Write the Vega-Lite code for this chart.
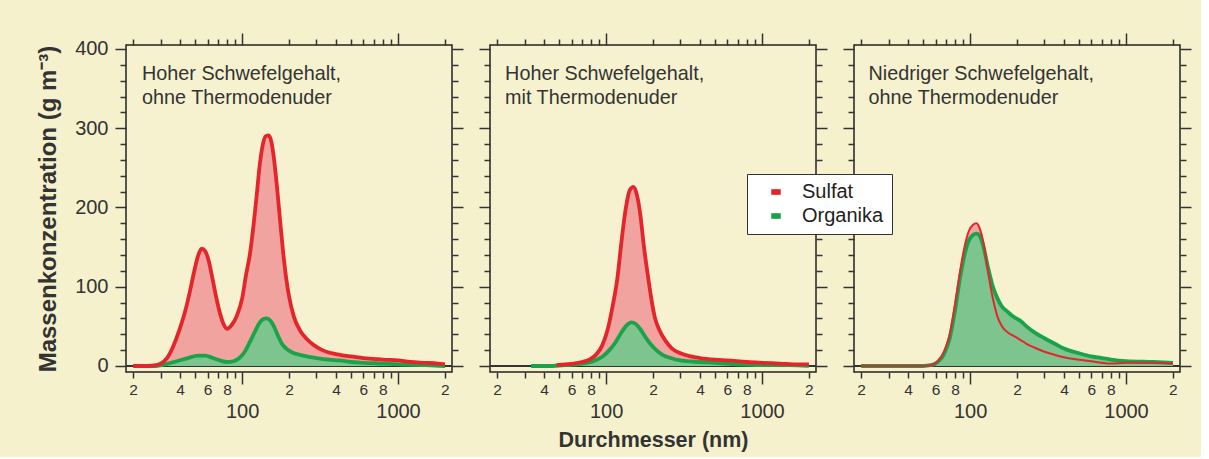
{
"$schema":"https://vega.github.io/schema/vega-lite/v6.json",
"background":"#f5f1cc",
"padding":{"left":35,"top":31,"right":8,"bottom":5},
"spacing":38,
"bounds":"flush",
"config":{"view":{"stroke":"#222","strokeWidth":1.5,"fill":"#f6f2cf"},"axis":{"tickColor":"#333","tickWidth":1.5,"labelColor":"#333","labelFont":"Liberation Sans","titleFont":"Liberation Sans","titleColor":"#333","titleFontSize":21.5,"titleFontWeight":"bold","grid":false,"domain":false}},
"data":{"values":[
{"p":1,"s":"Sulfat","d":20,"v":0},{"p":1,"s":"Sulfat","d":25,"v":0},{"p":1,"s":"Sulfat","d":28,"v":1},{"p":1,"s":"Sulfat","d":30,"v":3},{"p":1,"s":"Sulfat","d":33,"v":10},{"p":1,"s":"Sulfat","d":36,"v":24},{"p":1,"s":"Sulfat","d":40,"v":48},{"p":1,"s":"Sulfat","d":43,"v":68},{"p":1,"s":"Sulfat","d":46,"v":92},{"p":1,"s":"Sulfat","d":49,"v":117},{"p":1,"s":"Sulfat","d":52,"v":138},{"p":1,"s":"Sulfat","d":55,"v":148},{"p":1,"s":"Sulfat","d":58,"v":145},{"p":1,"s":"Sulfat","d":61,"v":133},{"p":1,"s":"Sulfat","d":64,"v":114},{"p":1,"s":"Sulfat","d":68,"v":88},{"p":1,"s":"Sulfat","d":72,"v":67},{"p":1,"s":"Sulfat","d":76,"v":53},{"p":1,"s":"Sulfat","d":80,"v":47},{"p":1,"s":"Sulfat","d":86,"v":52},{"p":1,"s":"Sulfat","d":92,"v":62},{"p":1,"s":"Sulfat","d":100,"v":85},{"p":1,"s":"Sulfat","d":106,"v":115},{"p":1,"s":"Sulfat","d":112,"v":140},{"p":1,"s":"Sulfat","d":118,"v":175},{"p":1,"s":"Sulfat","d":124,"v":215},{"p":1,"s":"Sulfat","d":130,"v":255},{"p":1,"s":"Sulfat","d":136,"v":280},{"p":1,"s":"Sulfat","d":142,"v":290},{"p":1,"s":"Sulfat","d":148,"v":291},{"p":1,"s":"Sulfat","d":154,"v":283},{"p":1,"s":"Sulfat","d":160,"v":262},{"p":1,"s":"Sulfat","d":167,"v":228},{"p":1,"s":"Sulfat","d":175,"v":185},{"p":1,"s":"Sulfat","d":183,"v":145},{"p":1,"s":"Sulfat","d":192,"v":110},{"p":1,"s":"Sulfat","d":200,"v":88},{"p":1,"s":"Sulfat","d":215,"v":62},{"p":1,"s":"Sulfat","d":235,"v":45},{"p":1,"s":"Sulfat","d":260,"v":34},{"p":1,"s":"Sulfat","d":290,"v":26},{"p":1,"s":"Sulfat","d":320,"v":21},{"p":1,"s":"Sulfat","d":360,"v":17},{"p":1,"s":"Sulfat","d":400,"v":15},{"p":1,"s":"Sulfat","d":450,"v":13},{"p":1,"s":"Sulfat","d":500,"v":12},{"p":1,"s":"Sulfat","d":600,"v":10},{"p":1,"s":"Sulfat","d":700,"v":9},{"p":1,"s":"Sulfat","d":800,"v":8},{"p":1,"s":"Sulfat","d":1000,"v":7},{"p":1,"s":"Sulfat","d":1200,"v":5},{"p":1,"s":"Sulfat","d":1500,"v":4},{"p":1,"s":"Sulfat","d":1800,"v":3},{"p":1,"s":"Sulfat","d":2000,"v":2},
{"p":1,"s":"Organika","d":22,"v":0},{"p":1,"s":"Organika","d":28,"v":0},{"p":1,"s":"Organika","d":32,"v":2},{"p":1,"s":"Organika","d":38,"v":6},{"p":1,"s":"Organika","d":45,"v":10},{"p":1,"s":"Organika","d":52,"v":13},{"p":1,"s":"Organika","d":58,"v":13},{"p":1,"s":"Organika","d":65,"v":10},{"p":1,"s":"Organika","d":72,"v":7},{"p":1,"s":"Organika","d":80,"v":5},{"p":1,"s":"Organika","d":88,"v":6},{"p":1,"s":"Organika","d":96,"v":10},{"p":1,"s":"Organika","d":104,"v":18},{"p":1,"s":"Organika","d":112,"v":30},{"p":1,"s":"Organika","d":120,"v":42},{"p":1,"s":"Organika","d":128,"v":53},{"p":1,"s":"Organika","d":136,"v":59},{"p":1,"s":"Organika","d":144,"v":60},{"p":1,"s":"Organika","d":152,"v":57},{"p":1,"s":"Organika","d":160,"v":50},{"p":1,"s":"Organika","d":170,"v":38},{"p":1,"s":"Organika","d":180,"v":28},{"p":1,"s":"Organika","d":192,"v":22},{"p":1,"s":"Organika","d":210,"v":17},{"p":1,"s":"Organika","d":235,"v":14},{"p":1,"s":"Organika","d":260,"v":12},{"p":1,"s":"Organika","d":300,"v":10},{"p":1,"s":"Organika","d":360,"v":8},{"p":1,"s":"Organika","d":420,"v":7},{"p":1,"s":"Organika","d":500,"v":5},{"p":1,"s":"Organika","d":600,"v":4},{"p":1,"s":"Organika","d":800,"v":3},{"p":1,"s":"Organika","d":1000,"v":2},{"p":1,"s":"Organika","d":1500,"v":1},{"p":1,"s":"Organika","d":2000,"v":0},
{"p":2,"s":"Sulfat","d":48,"v":1},{"p":2,"s":"Sulfat","d":55,"v":2},{"p":2,"s":"Sulfat","d":62,"v":3},{"p":2,"s":"Sulfat","d":70,"v":5},{"p":2,"s":"Sulfat","d":78,"v":8},{"p":2,"s":"Sulfat","d":86,"v":14},{"p":2,"s":"Sulfat","d":94,"v":25},{"p":2,"s":"Sulfat","d":102,"v":45},{"p":2,"s":"Sulfat","d":110,"v":75},{"p":2,"s":"Sulfat","d":118,"v":110},{"p":2,"s":"Sulfat","d":126,"v":160},{"p":2,"s":"Sulfat","d":134,"v":200},{"p":2,"s":"Sulfat","d":142,"v":222},{"p":2,"s":"Sulfat","d":150,"v":226},{"p":2,"s":"Sulfat","d":158,"v":215},{"p":2,"s":"Sulfat","d":166,"v":190},{"p":2,"s":"Sulfat","d":175,"v":150},{"p":2,"s":"Sulfat","d":185,"v":115},{"p":2,"s":"Sulfat","d":195,"v":85},{"p":2,"s":"Sulfat","d":205,"v":62},{"p":2,"s":"Sulfat","d":220,"v":45},{"p":2,"s":"Sulfat","d":240,"v":32},{"p":2,"s":"Sulfat","d":265,"v":22},{"p":2,"s":"Sulfat","d":300,"v":16},{"p":2,"s":"Sulfat","d":350,"v":12},{"p":2,"s":"Sulfat","d":400,"v":10},{"p":2,"s":"Sulfat","d":500,"v":8},{"p":2,"s":"Sulfat","d":600,"v":7},{"p":2,"s":"Sulfat","d":800,"v":5},{"p":2,"s":"Sulfat","d":1000,"v":4},{"p":2,"s":"Sulfat","d":1300,"v":3},{"p":2,"s":"Sulfat","d":1600,"v":2},{"p":2,"s":"Sulfat","d":2000,"v":2},
{"p":2,"s":"Organika","d":33,"v":0},{"p":2,"s":"Organika","d":45,"v":0},{"p":2,"s":"Organika","d":55,"v":1},{"p":2,"s":"Organika","d":65,"v":2},{"p":2,"s":"Organika","d":75,"v":4},{"p":2,"s":"Organika","d":85,"v":7},{"p":2,"s":"Organika","d":95,"v":12},{"p":2,"s":"Organika","d":105,"v":20},{"p":2,"s":"Organika","d":115,"v":30},{"p":2,"s":"Organika","d":125,"v":42},{"p":2,"s":"Organika","d":135,"v":51},{"p":2,"s":"Organika","d":145,"v":55},{"p":2,"s":"Organika","d":155,"v":53},{"p":2,"s":"Organika","d":165,"v":47},{"p":2,"s":"Organika","d":178,"v":37},{"p":2,"s":"Organika","d":192,"v":28},{"p":2,"s":"Organika","d":210,"v":20},{"p":2,"s":"Organika","d":230,"v":14},{"p":2,"s":"Organika","d":260,"v":10},{"p":2,"s":"Organika","d":300,"v":7},{"p":2,"s":"Organika","d":400,"v":5},{"p":2,"s":"Organika","d":500,"v":4},{"p":2,"s":"Organika","d":700,"v":2},{"p":2,"s":"Organika","d":1000,"v":1},{"p":2,"s":"Organika","d":1500,"v":1},{"p":2,"s":"Organika","d":2000,"v":0},
{"p":3,"s":"Sulfat","d":20,"v":0},{"p":3,"s":"Sulfat","d":30,"v":0},{"p":3,"s":"Sulfat","d":40,"v":0},{"p":3,"s":"Sulfat","d":50,"v":0},{"p":3,"s":"Sulfat","d":56,"v":1},{"p":3,"s":"Sulfat","d":62,"v":6},{"p":3,"s":"Sulfat","d":68,"v":18},{"p":3,"s":"Sulfat","d":74,"v":40},{"p":3,"s":"Sulfat","d":80,"v":78},{"p":3,"s":"Sulfat","d":86,"v":118},{"p":3,"s":"Sulfat","d":92,"v":150},{"p":3,"s":"Sulfat","d":98,"v":170},{"p":3,"s":"Sulfat","d":104,"v":178},{"p":3,"s":"Sulfat","d":110,"v":180},{"p":3,"s":"Sulfat","d":116,"v":172},{"p":3,"s":"Sulfat","d":122,"v":155},{"p":3,"s":"Sulfat","d":130,"v":120},{"p":3,"s":"Sulfat","d":140,"v":85},{"p":3,"s":"Sulfat","d":150,"v":62},{"p":3,"s":"Sulfat","d":160,"v":50},{"p":3,"s":"Sulfat","d":175,"v":42},{"p":3,"s":"Sulfat","d":190,"v":38},{"p":3,"s":"Sulfat","d":210,"v":33},{"p":3,"s":"Sulfat","d":230,"v":28},{"p":3,"s":"Sulfat","d":260,"v":23},{"p":3,"s":"Sulfat","d":300,"v":18},{"p":3,"s":"Sulfat","d":350,"v":14},{"p":3,"s":"Sulfat","d":400,"v":11},{"p":3,"s":"Sulfat","d":500,"v":8},{"p":3,"s":"Sulfat","d":600,"v":6},{"p":3,"s":"Sulfat","d":700,"v":4},{"p":3,"s":"Sulfat","d":800,"v":3},{"p":3,"s":"Sulfat","d":1000,"v":4},{"p":3,"s":"Sulfat","d":1500,"v":4},{"p":3,"s":"Sulfat","d":2000,"v":3},
{"p":3,"s":"Organika","d":20,"v":0},{"p":3,"s":"Organika","d":30,"v":0},{"p":3,"s":"Organika","d":40,"v":0},{"p":3,"s":"Organika","d":50,"v":0},{"p":3,"s":"Organika","d":56,"v":1},{"p":3,"s":"Organika","d":62,"v":5},{"p":3,"s":"Organika","d":68,"v":15},{"p":3,"s":"Organika","d":74,"v":35},{"p":3,"s":"Organika","d":80,"v":70},{"p":3,"s":"Organika","d":86,"v":110},{"p":3,"s":"Organika","d":92,"v":140},{"p":3,"s":"Organika","d":98,"v":158},{"p":3,"s":"Organika","d":104,"v":165},{"p":3,"s":"Organika","d":110,"v":167},{"p":3,"s":"Organika","d":116,"v":163},{"p":3,"s":"Organika","d":122,"v":150},{"p":3,"s":"Organika","d":130,"v":125},{"p":3,"s":"Organika","d":140,"v":100},{"p":3,"s":"Organika","d":150,"v":85},{"p":3,"s":"Organika","d":160,"v":75},{"p":3,"s":"Organika","d":175,"v":68},{"p":3,"s":"Organika","d":190,"v":62},{"p":3,"s":"Organika","d":210,"v":57},{"p":3,"s":"Organika","d":230,"v":50},{"p":3,"s":"Organika","d":260,"v":42},{"p":3,"s":"Organika","d":300,"v":35},{"p":3,"s":"Organika","d":350,"v":28},{"p":3,"s":"Organika","d":400,"v":22},{"p":3,"s":"Organika","d":500,"v":16},{"p":3,"s":"Organika","d":600,"v":12},{"p":3,"s":"Organika","d":700,"v":10},{"p":3,"s":"Organika","d":800,"v":8},{"p":3,"s":"Organika","d":1000,"v":6},{"p":3,"s":"Organika","d":1500,"v":5},{"p":3,"s":"Organika","d":2000,"v":4}
]},
"hconcat":[
{"width":326,"height":327,"resolve":{"axis":{"x":"independent","y":"independent"}},"layer":[
 {"mark":{"type":"rule","color":"#333","strokeWidth":1},"encoding":{"y":{"datum":0,"type":"quantitative","axis":null}}},
 {"transform":[{"filter":"datum.p==1 && datum.s=='Sulfat'"}],"mark":{"type":"area","color":"#f1a3a0","interpolate":"monotone"},"encoding":{
  "x":{"field":"d","type":"quantitative","scale":{"type":"log","domain":[18,2220],"nice":false},"axis":{"orient":"bottom","values":[20,30,40,50,60,70,80,90,100,200,300,400,500,600,700,800,900,1000,2000],"labelExpr":"indexof([20,200,2000],datum.value)>=0 ? '2' : indexof([40,400],datum.value)>=0 ? '4' : indexof([60,600],datum.value)>=0 ? '6' : indexof([80,800],datum.value)>=0 ? '8' : datum.value==100 ? ['','100'] : datum.value==1000 ? ['','1000'] : ''","labelFontSize":{"condition":{"test":"datum.value==100||datum.value==1000","value":20},"value":15.5},"labelLineHeight":13,"tickSize":{"condition":{"test":"datum.value==100||datum.value==1000","value":12},"value":6},"labelPadding":4,"labelOverlap":false,"labelFlush":false,"labelBound":false,"title":null}},
  "y":{"field":"v","type":"quantitative","scale":{"domain":[-7.6,405],"nice":false,"zero":false},"axis":{"orient":"left","values":[0,20,40,60,80,100,120,140,160,180,200,220,240,260,280,300,320,340,360,380,400],"labelExpr":"datum.value%100==0 ? datum.label : ''","tickSize":{"condition":{"test":"datum.value%100==0","value":11},"value":6},"labelPadding":7,"labelFontSize":20,"labelOverlap":false,"title":"Massenkonzentration (g m⁻³)","titleFontSize":24,"titlePadding":14}}}},
 {"transform":[{"filter":"datum.p==1 && datum.s=='Organika'"}],"mark":{"type":"area","color":"#7dc48f","interpolate":"monotone"},"encoding":{
  "x":{"field":"d","type":"quantitative","axis":{"orient":"top","values":[20,30,40,50,60,70,80,90,100,200,300,400,500,600,700,800,900,1000,2000],"labels":false,"tickSize":{"condition":{"test":"datum.value==100||datum.value==1000","value":12},"value":6},"title":null}},
  "y":{"field":"v","type":"quantitative","axis":{"orient":"right","values":[0,20,40,60,80,100,120,140,160,180,200,220,240,260,280,300,320,340,360,380,400],"labels":false,"tickSize":{"condition":{"test":"datum.value%100==0","value":11},"value":6},"title":null}}}},
 {"transform":[{"filter":"datum.p==1 && datum.s=='Organika'"}],"mark":{"type":"line","strokeWidth":3.8,"interpolate":"monotone"},"encoding":{"x":{"field":"d","type":"quantitative","axis":null},"y":{"field":"v","type":"quantitative","axis":null},"color":{"field":"s","type":"nominal","scale":{"domain":["Sulfat","Organika"],"range":["#e3262b","#1ba34a"]},"legend":{"orient":"none","legendX":621,"legendY":129,"title":null,"symbolType":"M-1,-0.6H1V0.6H-1Z","symbolSize":90,"labelFontSize":20,"labelFont":"Liberation Sans","labelColor":"#222","fillColor":"#ffffff","strokeColor":"#333","padding":8,"symbolOffset":11,"labelOffset":16,"rowPadding":4,"encode":{"symbols":{"update":{"fill":{"scale":"color","field":"value"},"strokeWidth":{"value":0}}}}}}}},
 {"transform":[{"filter":"datum.p==1 && datum.s=='Sulfat'"}],"mark":{"type":"line","strokeWidth":3.8,"interpolate":"monotone"},"encoding":{"x":{"field":"d","type":"quantitative","axis":null},"y":{"field":"v","type":"quantitative","axis":null},"color":{"field":"s","type":"nominal"}}},
 {"data":{"values":[{}]},"mark":{"type":"text","align":"left","baseline":"alphabetic","fontSize":19.8,"font":"Liberation Sans","color":"#333","lineBreak":"\n","lineHeight":24},"encoding":{"x":{"datum":22.8,"type":"quantitative","axis":null},"y":{"datum":361,"type":"quantitative","axis":null},"text":{"value":"Hoher Schwefelgehalt,\nohne Thermodenuder"}}}
]},
{"width":326,"height":327,"resolve":{"axis":{"x":"independent","y":"independent"}},"layer":[
 {"mark":{"type":"rule","color":"#333","strokeWidth":1},"encoding":{"y":{"datum":0,"type":"quantitative","axis":null}}},
 {"transform":[{"filter":"datum.p==2 && datum.s=='Sulfat'"}],"mark":{"type":"area","color":"#f1a3a0","interpolate":"monotone"},"encoding":{
  "x":{"field":"d","type":"quantitative","scale":{"type":"log","domain":[18,2220],"nice":false},"axis":{"orient":"bottom","values":[20,30,40,50,60,70,80,90,100,200,300,400,500,600,700,800,900,1000,2000],"labelExpr":"indexof([20,200,2000],datum.value)>=0 ? '2' : indexof([40,400],datum.value)>=0 ? '4' : indexof([60,600],datum.value)>=0 ? '6' : indexof([80,800],datum.value)>=0 ? '8' : datum.value==100 ? ['','100'] : datum.value==1000 ? ['','1000'] : ''","labelFontSize":{"condition":{"test":"datum.value==100||datum.value==1000","value":20},"value":15.5},"labelLineHeight":13,"tickSize":{"condition":{"test":"datum.value==100||datum.value==1000","value":12},"value":6},"labelPadding":4,"labelOverlap":false,"labelFlush":false,"labelBound":false,"title":"Durchmesser (nm)","titlePadding":8}},
  "y":{"field":"v","type":"quantitative","scale":{"domain":[-7.6,405],"nice":false,"zero":false},"axis":{"orient":"left","values":[0,20,40,60,80,100,120,140,160,180,200,220,240,260,280,300,320,340,360,380,400],"labels":false,"tickSize":{"condition":{"test":"datum.value%100==0","value":11},"value":6},"title":null}}}},
 {"transform":[{"filter":"datum.p==2 && datum.s=='Organika'"}],"mark":{"type":"area","color":"#7dc48f","interpolate":"monotone"},"encoding":{
  "x":{"field":"d","type":"quantitative","axis":{"orient":"top","values":[20,30,40,50,60,70,80,90,100,200,300,400,500,600,700,800,900,1000,2000],"labels":false,"tickSize":{"condition":{"test":"datum.value==100||datum.value==1000","value":12},"value":6},"title":null}},
  "y":{"field":"v","type":"quantitative","axis":{"orient":"right","values":[0,20,40,60,80,100,120,140,160,180,200,220,240,260,280,300,320,340,360,380,400],"labels":false,"tickSize":{"condition":{"test":"datum.value%100==0","value":11},"value":6},"title":null}}}},
 {"transform":[{"filter":"datum.p==2 && datum.s=='Organika'"}],"mark":{"type":"line","strokeWidth":3.8,"interpolate":"monotone"},"encoding":{"x":{"field":"d","type":"quantitative","axis":null},"y":{"field":"v","type":"quantitative","axis":null},"color":{"field":"s","type":"nominal"}}},
 {"transform":[{"filter":"datum.p==2 && datum.s=='Sulfat'"}],"mark":{"type":"line","strokeWidth":3.8,"interpolate":"monotone"},"encoding":{"x":{"field":"d","type":"quantitative","axis":null},"y":{"field":"v","type":"quantitative","axis":null},"color":{"field":"s","type":"nominal"}}},
 {"data":{"values":[{}]},"mark":{"type":"text","align":"left","baseline":"alphabetic","fontSize":19.8,"font":"Liberation Sans","color":"#333","lineBreak":"\n","lineHeight":24},"encoding":{"x":{"datum":22.5,"type":"quantitative","axis":null},"y":{"datum":361,"type":"quantitative","axis":null},"text":{"value":"Hoher Schwefelgehalt,\nmit Thermodenuder"}}}
]},
{"width":326,"height":327,"resolve":{"axis":{"x":"independent","y":"independent"}},"layer":[
 {"mark":{"type":"rule","color":"#333","strokeWidth":1},"encoding":{"y":{"datum":0,"type":"quantitative","axis":null}}},
 {"transform":[{"filter":"datum.p==3 && datum.s=='Sulfat'"}],"mark":{"type":"area","color":"#f1a3a0","interpolate":"monotone"},"encoding":{
  "x":{"field":"d","type":"quantitative","scale":{"type":"log","domain":[18,2220],"nice":false},"axis":{"orient":"bottom","values":[20,30,40,50,60,70,80,90,100,200,300,400,500,600,700,800,900,1000,2000],"labelExpr":"indexof([20,200,2000],datum.value)>=0 ? '2' : indexof([40,400],datum.value)>=0 ? '4' : indexof([60,600],datum.value)>=0 ? '6' : indexof([80,800],datum.value)>=0 ? '8' : datum.value==100 ? ['','100'] : datum.value==1000 ? ['','1000'] : ''","labelFontSize":{"condition":{"test":"datum.value==100||datum.value==1000","value":20},"value":15.5},"labelLineHeight":13,"tickSize":{"condition":{"test":"datum.value==100||datum.value==1000","value":12},"value":6},"labelPadding":4,"labelOverlap":false,"labelFlush":false,"labelBound":false,"title":null}},
  "y":{"field":"v","type":"quantitative","scale":{"domain":[-7.6,405],"nice":false,"zero":false},"axis":{"orient":"left","values":[0,20,40,60,80,100,120,140,160,180,200,220,240,260,280,300,320,340,360,380,400],"labels":false,"tickSize":{"condition":{"test":"datum.value%100==0","value":11},"value":6},"title":null}}}},
 {"transform":[{"filter":"datum.p==3 && datum.s=='Organika'"}],"mark":{"type":"area","color":"#7dc48f","interpolate":"monotone"},"encoding":{
  "x":{"field":"d","type":"quantitative","axis":{"orient":"top","values":[20,30,40,50,60,70,80,90,100,200,300,400,500,600,700,800,900,1000,2000],"labels":false,"tickSize":{"condition":{"test":"datum.value==100||datum.value==1000","value":12},"value":6},"title":null}},
  "y":{"field":"v","type":"quantitative","axis":{"orient":"right","values":[0,20,40,60,80,100,120,140,160,180,200,220,240,260,280,300,320,340,360,380,400],"labels":false,"tickSize":{"condition":{"test":"datum.value%100==0","value":11},"value":6},"title":null}}}},
 {"transform":[{"filter":"datum.p==3 && datum.s=='Organika'"}],"mark":{"type":"line","strokeWidth":3.8,"interpolate":"monotone"},"encoding":{"x":{"field":"d","type":"quantitative","axis":null},"y":{"field":"v","type":"quantitative","axis":null},"color":{"field":"s","type":"nominal"}}},
 {"transform":[{"filter":"datum.p==3 && datum.s=='Sulfat'"}],"mark":{"type":"line","strokeWidth":2,"interpolate":"monotone"},"encoding":{"x":{"field":"d","type":"quantitative","axis":null},"y":{"field":"v","type":"quantitative","axis":null},"color":{"field":"s","type":"nominal"}}},
 {"data":{"values":[{}]},"mark":{"type":"text","align":"left","baseline":"alphabetic","fontSize":19.8,"font":"Liberation Sans","color":"#333","lineBreak":"\n","lineHeight":24},"encoding":{"x":{"datum":22.3,"type":"quantitative","axis":null},"y":{"datum":361,"type":"quantitative","axis":null},"text":{"value":"Niedriger Schwefelgehalt,\nohne Thermodenuder"}}}
]}
]
}
